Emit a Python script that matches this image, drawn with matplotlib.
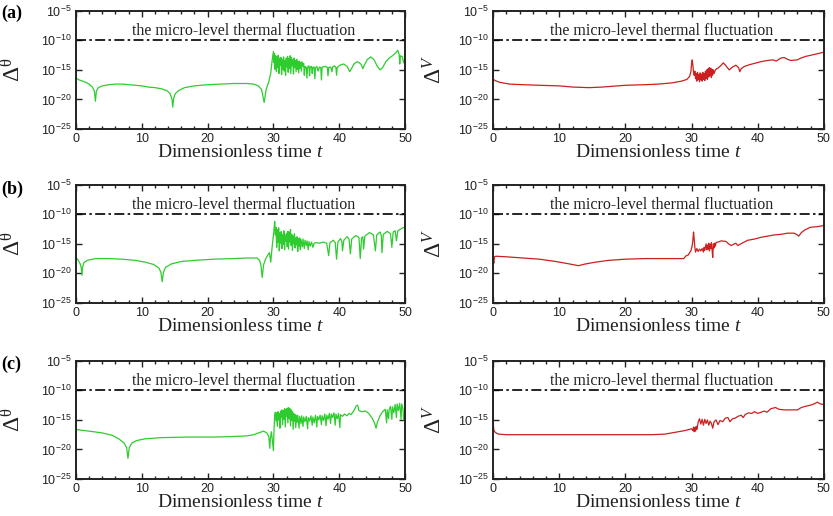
import numpy as np
import matplotlib
matplotlib.use("Agg")
import matplotlib.pyplot as plt
from matplotlib.ticker import MultipleLocator, NullLocator, LogFormatterMathtext

plt.rcParams['font.family'] = 'Liberation Serif'
plt.rcParams['mathtext.fontset'] = 'custom'
plt.rcParams['mathtext.rm'] = 'Liberation Serif'
plt.rcParams['mathtext.it'] = 'Liberation Serif:italic'

# (t, log10 of deviation) pairs for each case
a_theta = [(0, -10.3), (0.05, -16.4), (0.5, -16.7), (1.0, -16.9), (1.5, -17.1), (2.0, -17.4), (2.5, -17.9),
           (2.8, -18.6), (2.95, -20.3), (3.1, -18.6), (3.4, -18.0), (4, -17.7), (5, -17.5), (6, -17.4),
           (7, -17.4), (8, -17.5), (9, -17.6), (10, -17.7), (11, -17.9), (12, -18.0), (13, -18.2),
           (13.8, -18.5), (14.3, -19.0), (14.6, -20.0), (14.7, -21.3), (14.85, -19.8), (15.1, -19.0),
           (15.6, -18.5), (16.5, -18.0), (18, -17.7), (20, -17.5), (22, -17.4), (24, -17.3), (26, -17.3),
           (27, -17.4), (27.7, -17.7), (28.2, -18.3), (28.6, -20.5), (28.9, -18.3), (29.3, -17.0),
           (29.6, -15.5), (29.8, -13.5), (30.0, -11.9),
           (30.1, -13.8), (30.15, -12.2), (30.25, -14.9), (30.35, -12.6), (30.45, -15.3), (30.55, -12.8),
           (30.65, -14.6), (30.75, -12.5), (30.85, -15.6), (30.95, -13.0), (31.05, -14.2), (31.15, -12.9),
           (31.25, -15.8), (31.35, -13.2), (31.45, -14.9), (31.55, -12.8), (31.65, -15.2), (31.75, -13.4),
           (31.85, -15.9), (31.95, -13.0), (32.05, -14.5), (32.15, -12.7), (32.25, -15.4), (32.35, -13.1),
           (32.45, -14.8), (32.55, -12.6), (32.65, -15.6), (32.75, -12.9), (32.85, -14.3), (32.95, -13.3),
           (33.05, -15.7), (33.15, -13.0), (33.25, -14.6), (33.35, -13.4), (33.45, -15.3), (33.55, -13.2),
           (33.65, -14.9), (33.75, -13.6), (33.85, -15.5), (33.95, -13.5), (34.05, -14.7), (34.15, -13.7),
           (34.25, -15.2), (34.35, -13.6), (34.5, -14.4), (34.6, -13.9),
           (34.7, -15.9), (34.8, -14.4), (35.0, -14.6), (35.1, -16.4), (35.2, -14.5), (35.4, -14.3),
           (35.5, -16.0), (35.6, -14.5), (35.8, -14.4), (35.9, -15.6), (36.0, -14.6), (36.2, -14.5),
           (36.3, -16.5), (36.4, -14.7), (36.6, -14.4), (36.8, -15.2), (37.0, -14.5), (37.2, -14.6),
           (37.3, -16.7), (37.4, -14.6), (37.6, -14.4), (37.8, -14.5), (38.0, -14.4), (38.2, -14.6),
           (38.3, -16.0), (38.4, -14.6), (38.7, -14.5), (38.9, -15.3), (39.0, -14.5), (39.3, -14.3),
           (39.5, -14.6), (39.6, -15.9), (39.7, -14.6), (40.0, -14.3),
           (40.3, -14.1), (40.7, -14.0), (41.2, -14.4), (41.6, -15.3), (41.8, -14.9), (42.3, -13.9),
           (42.8, -13.6), (43.3, -14.0), (43.6, -14.8), (43.8, -14.2), (44.3, -13.2), (44.8, -12.8),
           (45.3, -13.3), (45.8, -14.4), (46.2, -15.0), (46.6, -14.6), (47.1, -13.6), (47.6, -13.0),
           (48.1, -12.6), (48.6, -12.1), (48.9, -11.7), (49.1, -12.3), (49.2, -14.0), (49.3, -12.6),
           (49.6, -12.8), (49.8, -13.8), (50, -13.2)]

a_v = [(0, -8.7), (0.03, -16.6), (0.3, -16.8), (1, -17.1), (2.5, -17.4), (4.5, -17.5), (7, -17.6),
       (10, -17.7), (12, -17.9), (14.5, -18.0), (16.5, -17.9), (20, -17.6), (23, -17.5), (25, -17.4),
       (27, -17.2), (28.5, -16.9), (29.3, -16.6), (29.7, -16.1), (29.9, -15.3), (30.0, -14.0),
       (30.1, -13.3), (30.2, -14.2), (30.3, -15.4), (30.4, -15.9),
       (30.5, -15.2), (30.6, -16.5), (30.7, -15.6), (30.8, -16.9), (30.9, -15.4), (31.0, -16.6),
       (31.1, -15.8), (31.2, -17.0), (31.3, -15.5), (31.4, -16.7), (31.5, -15.7), (31.6, -16.9),
       (31.7, -15.4), (31.8, -16.6), (31.9, -15.6), (32.0, -16.8), (32.1, -15.2), (32.2, -16.4),
       (32.3, -15.0), (32.4, -16.6), (32.5, -14.8), (32.6, -16.2), (32.7, -14.6), (32.8, -16.0),
       (32.9, -14.7), (33.0, -16.3), (33.1, -14.9), (33.2, -15.9), (33.3, -15.0), (33.4, -15.6),
       (33.6, -15.0), (33.8, -14.8), (34.0, -14.7),
       (34.4, -14.3), (34.8, -13.8), (35.2, -14.3), (35.7, -15.0), (36.2, -14.5), (36.7, -14.2),
       (37.1, -14.6), (37.3, -15.3), (37.5, -14.8), (38, -14.4), (38.8, -14.1), (39.5, -13.9),
       (40.5, -13.6), (41.5, -13.4), (42.3, -13.3), (42.8, -13.5), (43.5, -13.0), (44, -12.9),
       (44.5, -13.2), (45, -13.4), (46, -13.3), (46.5, -13.0), (47.3, -12.7), (48.5, -12.4), (50, -12.0)]

b_theta = [(0, -9.8), (0.05, -17.4), (0.3, -17.7), (0.6, -18.3), (0.8, -19.0), (0.9, -20.3), (1.0, -19.0),
           (1.2, -18.2), (1.7, -17.8), (3, -17.5), (5, -17.5), (7, -17.6), (9, -17.8), (10.5, -18.1),
           (11.8, -18.5), (12.6, -19.1), (12.9, -19.8), (13.1, -21.4), (13.3, -19.8), (13.6, -19.0),
           (14.5, -18.4), (16, -18.0), (18, -17.8), (21, -17.6), (24, -17.5), (26, -17.4), (27.5, -17.4),
           (27.9, -17.8), (28.1, -18.6), (28.3, -20.7), (28.5, -18.6), (28.8, -17.6), (29.2, -16.8),
           (29.4, -16.5), (29.6, -18.1), (29.75, -16.2), (29.9, -14.6), (30.1, -12.5), (30.2, -11.2),
           (30.3, -13.5), (30.4, -12.2), (30.5, -15.6), (30.6, -12.6), (30.7, -14.8), (30.8, -12.3),
           (30.9, -16.2), (31.0, -13.1), (31.1, -14.9), (31.2, -12.9), (31.3, -15.8), (31.4, -13.4),
           (31.5, -15.1), (31.6, -12.8), (31.7, -16.0), (31.8, -13.5), (31.9, -14.6), (32.0, -13.2),
           (32.1, -15.5), (32.2, -12.9), (32.3, -15.9), (32.4, -13.0), (32.5, -14.7), (32.6, -12.6),
           (32.7, -15.3), (32.8, -13.4), (32.9, -16.1), (33.0, -13.7), (33.1, -15.0), (33.2, -13.3),
           (33.3, -15.7), (33.4, -14.0), (33.5, -15.2), (33.6, -13.8), (33.7, -16.3), (33.8, -14.1),
           (33.9, -15.4), (34.0, -14.0), (34.1, -16.0), (34.2, -14.3), (34.4, -15.5), (34.5, -14.2),
           (34.7, -15.8), (34.8, -14.4), (35.0, -15.3), (35.1, -14.5), (35.3, -16.0), (35.4, -14.6),
           (35.6, -15.4), (35.8, -14.7), (36.0, -15.6), (36.2, -14.9), (36.5, -14.8),
           (37.0, -14.9), (37.6, -14.7), (38.1, -14.9), (38.4, -17.0), (38.6, -14.8), (39.1, -14.4),
           (39.4, -14.8), (39.6, -17.6), (39.8, -14.7), (40.2, -14.1), (40.4, -14.6), (40.5, -16.2),
           (40.7, -14.4), (41.2, -13.8), (41.5, -14.2), (41.7, -16.7), (41.9, -14.2), (42.5, -13.6),
           (43.0, -13.9), (43.2, -17.5), (43.4, -14.0), (43.6, -13.8), (43.7, -15.9), (43.9, -13.7),
           (44.6, -13.1), (45.2, -13.5), (45.5, -16.2), (45.7, -13.5), (46.2, -13.0), (46.4, -13.6),
           (46.5, -16.5), (46.7, -13.4), (47.3, -12.9), (47.8, -13.3), (48.0, -15.6), (48.2, -13.0),
           (48.5, -12.8), (48.7, -14.5), (48.9, -12.8), (49.5, -12.4), (50, -12.1)]

b_v = [(0, -10.0), (0.03, -17.9), (0.1, -18.3), (0.2, -17.2), (0.4, -17.1), (2, -17.2), (4.5, -17.4),
       (7, -17.6), (9.5, -18.0), (11.5, -18.4), (12.9, -18.7), (14, -18.4), (15.5, -18.1), (17.5, -17.8),
       (20, -17.6), (23, -17.5), (26, -17.5), (28.8, -17.5), (29.2, -17.0), (29.5, -16.9), (29.7, -16.5),
       (29.9, -16.2), (30.1, -15.3), (30.2, -14.4), (30.3, -13.0), (30.4, -14.2), (30.5, -15.6),
       (30.6, -16.4), (30.8, -15.8), (31.0, -16.3), (31.2, -15.9), (31.4, -16.2), (31.6, -15.8),
       (31.8, -16.4), (31.9, -15.6), (32.0, -16.1), (32.2, -15.0), (32.3, -16.0), (32.4, -15.2),
       (32.5, -15.9), (32.6, -14.9), (32.7, -16.2), (32.8, -15.1), (32.9, -15.8), (33.0, -14.8),
       (33.1, -16.0), (33.2, -17.3), (33.3, -15.0), (33.4, -15.7), (33.5, -14.9), (33.6, -15.4),
       (33.7, -14.8), (34.0, -14.7), (34.5, -14.5), (35.2, -14.6), (35.6, -15.0), (36.0, -15.3),
       (36.3, -15.1), (36.7, -14.9), (37.0, -15.3), (37.3, -15.1), (37.8, -14.8), (38.5, -14.4),
       (39.5, -14.2), (40.5, -13.9), (41.5, -13.7), (42.5, -13.5), (43.5, -13.4), (44.5, -13.2),
       (45.5, -13.2), (46.0, -13.5), (46.2, -13.7), (46.6, -13.1), (47.2, -12.6), (48, -12.2),
       (49, -12.1), (50, -11.9)]

c_theta = [(0, -11.0), (0.03, -16.6), (0.5, -16.7), (2, -16.9), (4, -17.2), (5.5, -17.6), (6.5, -18.2),
           (7.3, -18.9), (7.7, -19.7), (7.9, -21.5), (8.1, -19.7), (8.5, -18.9), (9.2, -18.5),
           (10.5, -18.2), (13, -18.0), (17, -17.9), (21, -17.9), (24, -17.8), (26, -17.7), (27, -17.5),
           (28, -17.1), (28.5, -16.9), (29.0, -17.2), (29.3, -17.8), (29.45, -19.8), (29.55, -18.1),
           (29.7, -17.0), (29.85, -18.5), (30.0, -20.2), (30.1, -16.5), (30.2, -14.2), (30.3, -13.7),
           (30.4, -15.2), (30.5, -13.8), (30.6, -16.1), (30.7, -13.6), (30.8, -15.0), (30.9, -13.9),
           (31.0, -16.4), (31.1, -13.5), (31.2, -14.6), (31.3, -13.3), (31.4, -15.8), (31.5, -13.4),
           (31.6, -14.9), (31.7, -13.1), (31.8, -16.2), (31.9, -13.2), (32.0, -14.4), (32.1, -13.0),
           (32.2, -15.5), (32.3, -12.9), (32.4, -14.8), (32.5, -13.1), (32.6, -16.0), (32.7, -13.3),
           (32.8, -15.1), (32.9, -13.6), (33.0, -16.6), (33.1, -13.9), (33.2, -15.2), (33.3, -14.1),
           (33.4, -16.3), (33.5, -14.3), (33.6, -15.4), (33.7, -14.2), (33.9, -16.4), (34.0, -14.4),
           (34.2, -15.6), (34.3, -14.3), (34.5, -16.1), (34.6, -14.5), (34.8, -15.3), (35.0, -14.4),
           (35.2, -16.5), (35.3, -14.6), (35.5, -15.2), (35.7, -14.3), (35.9, -15.9), (36.0, -14.5),
           (36.2, -15.5), (36.4, -14.2), (36.6, -16.2), (36.7, -14.4), (36.9, -15.0), (37.1, -14.2),
           (37.3, -15.8), (37.4, -14.3), (37.6, -15.1), (37.8, -14.0), (38.0, -16.0), (38.1, -14.2),
           (38.3, -14.9), (38.5, -13.9), (38.7, -15.6), (38.8, -14.0), (39.0, -14.6), (39.2, -13.8),
           (39.4, -15.9), (39.5, -14.0), (39.7, -14.8), (39.9, -13.9), (40.1, -16.3), (40.2, -14.1),
           (40.5, -14.4), (40.8, -14.0), (41.2, -14.3), (41.5, -13.9), (41.8, -14.1), (42.2, -13.5),
           (42.6, -12.6), (42.8, -12.5), (43.0, -13.4), (43.4, -13.6), (44.0, -13.5), (44.5, -13.9),
           (45.0, -14.7), (45.4, -15.6), (45.6, -16.4), (45.8, -15.4), (46.2, -14.3), (46.6, -13.6),
           (47.0, -13.2), (47.2, -15.5), (47.3, -13.3), (47.5, -14.8), (47.6, -13.2), (47.8, -12.7),
           (48.0, -14.9), (48.1, -12.8), (48.3, -13.8), (48.5, -12.4), (48.7, -14.6), (48.8, -12.3),
           (49.0, -13.4), (49.2, -12.2), (49.4, -14.9), (49.5, -12.3), (49.7, -13.2), (49.8, -15.0),
           (50, -13.6)]

c_v = [(0, -10.2), (0.03, -15.8), (0.1, -16.7), (0.3, -17.1), (0.8, -17.4), (2, -17.5), (10, -17.5),
       (20, -17.5), (24, -17.5), (26, -17.4), (27.5, -17.1), (29, -16.8), (30.0, -16.5), (30.2, -16.8),
       (30.3, -16.2), (30.4, -17.0), (30.5, -16.3), (30.6, -16.9), (30.7, -16.1), (30.8, -16.6),
       (31.0, -15.4), (31.2, -14.8), (31.4, -15.7), (31.6, -14.9), (31.8, -15.9), (32.0, -14.9),
       (32.2, -15.6), (32.4, -15.0), (32.6, -15.9), (32.8, -15.2), (33.0, -15.6), (33.2, -16.4),
       (33.4, -15.3), (33.7, -15.0), (34.0, -15.8), (34.3, -15.1), (34.7, -15.3), (35.1, -14.7),
       (35.5, -14.6), (35.8, -15.3), (36.2, -14.8), (36.6, -14.7), (37.0, -14.4), (37.5, -14.2),
       (37.8, -14.6), (38.1, -14.1), (38.6, -13.8), (39.1, -13.9), (39.5, -13.6), (40.0, -13.9),
       (40.5, -13.7), (41.0, -13.5), (41.4, -13.7), (42.0, -13.1), (42.7, -12.9), (43.2, -13.2),
       (44.0, -13.3), (45.0, -13.3), (46.0, -13.3), (46.6, -12.9), (47.2, -12.7), (48.0, -12.5),
       (48.5, -12.3), (49.0, -12.0), (49.5, -12.3), (50, -12.4)]

panel_tags = ['(a)', '(b)', '(c)']
thermal_level = 1e-10
x_ticks = [0, 10, 20, 30, 40, 50]
y_ticks = [1e-25, 1e-20, 1e-15, 1e-10, 1e-5]

green = '#2ecc2e'
red = '#cc1f1f'

fig = plt.figure(figsize=(8.33, 5.16), dpi=100)
bottoms = [0.750, 0.413, 0.0717]
tag_y = [0.975, 0.634, 0.294]
rows = [(a_theta, a_v), (b_theta, b_v), (c_theta, c_v)]


def style_axes(ax):
    ax.set_yscale('log')
    ax.set_xlim(0, 50)
    ax.set_ylim(1e-25, 1e-5)
    ax.set_xticks(x_ticks)
    ax.xaxis.set_minor_locator(MultipleLocator(2))
    ax.set_yticks(y_ticks)
    ax.yaxis.set_minor_locator(NullLocator())
    ax.yaxis.set_major_formatter(LogFormatterMathtext())
    ax.tick_params(which='both', direction='in', top=True, right=True, width=1.0,
                   labelsize=9, labelfontfamily='Liberation Sans', colors='#222222')
    ax.tick_params(which='major', length=4, pad=3)
    ax.tick_params(which='minor', length=2)
    for sp in ax.spines.values():
        sp.set_linewidth(1.4)
        sp.set_color('#222222')
    ax.axhline(thermal_level, color='black', lw=1.2, dashes=(6, 2, 1.5, 2))
    ax.text(25.5, 10 ** -9.75, 'the micro-level thermal fluctuation', ha='center', va='bottom',
            fontsize=11.5, color='#222222')
    ax.set_xlabel('Dimensionless time $t$', fontsize=14, color='#222222')
    ax.xaxis.set_label_coords(0.5, -0.125)


for i, (theta_curve, v_curve) in enumerate(rows):
    ax_l = fig.add_axes([0.0912, bottoms[i], 0.395, 0.229])
    t, d = zip(*theta_curve)
    ax_l.plot(t, 10.0 ** np.array(d), color=green, lw=0.9)
    style_axes(ax_l)
    ax_l.set_ylabel(r'$\mathdefault{Δ^{θ}}$', fontsize=17, color='#222222')
    ax_l.yaxis.set_label_coords(-0.155, 0.5)

    ax_r = fig.add_axes([0.592, bottoms[i], 0.397, 0.229])
    t, d = zip(*v_curve)
    ax_r.plot(t, 10.0 ** np.array(d), color=red, lw=0.9)
    style_axes(ax_r)
    ax_r.set_ylabel(r'$\mathdefault{Δ}^{V}$', fontsize=17, color='#222222')
    ax_r.yaxis.set_label_coords(-0.14, 0.5)

    fig.text(0.002, tag_y[i], panel_tags[i], fontsize=13, fontweight='bold', va='center', ha='left')

fig.savefig('out.png', dpi=100)
